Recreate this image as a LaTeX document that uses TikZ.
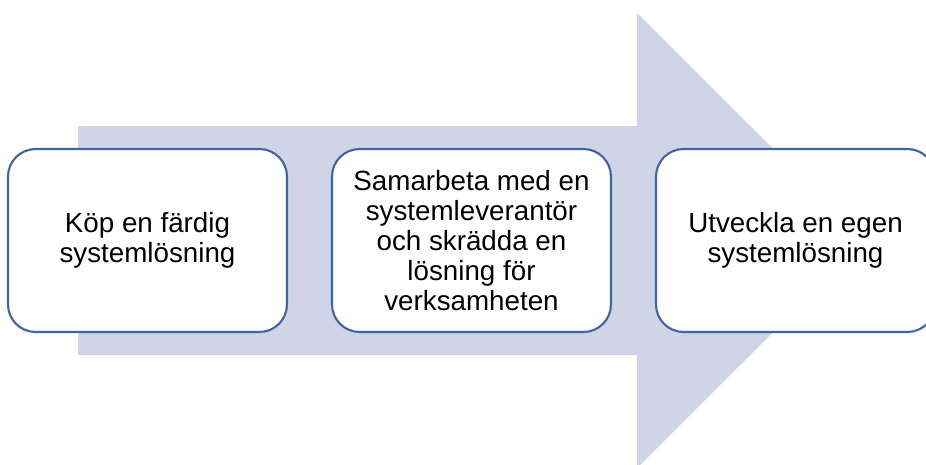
\documentclass[tikz,border=0pt]{standalone}
\usepackage{fontspec}
\setmainfont{Liberation Sans}
\definecolor{arrowfill}{RGB}{207,213,230}
\definecolor{boxline}{RGB}{63,101,165}

\tikzset{
  stepbox/.style={draw=boxline, line width=1.2pt, fill=white,
    rounded corners=0.55cm, minimum width=5.58cm, minimum height=3.66cm,
    align=center, font=\fontsize{15.8}{17}\selectfont},
}

\begin{document}
\begin{tikzpicture}[x=0.02cm,y=-0.02cm]
  \useasboundingbox (0,0) rectangle (926,464);
  % big arrow behind the boxes
  \fill[arrowfill] (78,126) -- (637,126) -- (637,13) -- (865,240.5)
    -- (637,468) -- (637,355) -- (78,355) -- cycle;
  \node[stepbox] (buy)     at (147.5,240.5) {Köp en färdig\\systemlösning};
  \node[stepbox] (partner) at (471.5,240.5) {Samarbeta med en\\systemleverantör\\och skrädda en\\lösning för\\verksamheten};
  \node[stepbox] (build)   at (795.5,240.5) {Utveckla en egen\\systemlösning};
\end{tikzpicture}
\end{document}
